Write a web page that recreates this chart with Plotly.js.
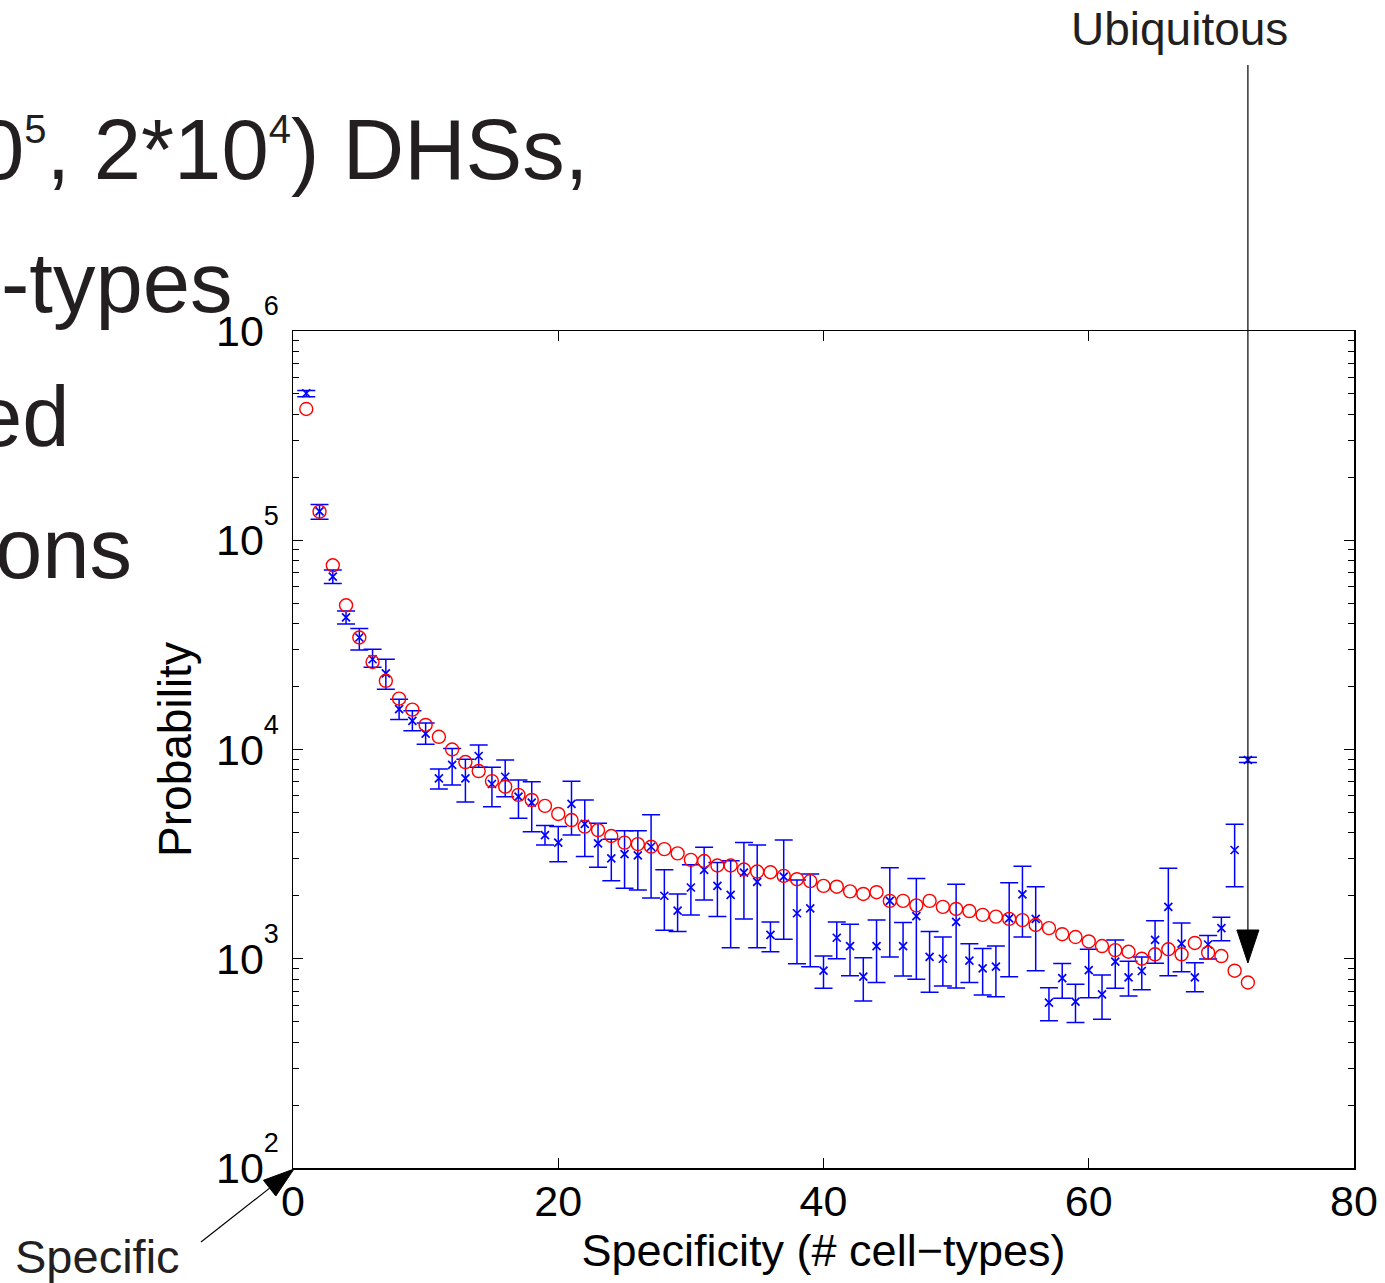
<!DOCTYPE html>
<html><head><meta charset="utf-8">
<script src="https://cdn.plot.ly/plotly-3.0.1.min.js"></script>
<style>html,body{margin:0;padding:0;background:#fff;overflow:hidden}</style>
</head><body><div id="chart" style="width:1385px;height:1283px"></div>
<script>
// Specificity: number of cell types a DHS is accessible in
const specificity = [1,2,3,4,5,6,7,8,9,10,11,12,13,14,15,16,17,18,19,20,21,22,23,24,25,26,27,28,29,30,31,32,33,34,35,36,37,38,39,40,41,42,43,44,45,46,47,48,49,50,51,52,53,54,55,56,57,58,59,60,61,62,63,64,65,66,67,68,69,70,71,72];

// Observed counts (blue x) with error-bar bounds
const observed = [504000,137500,67000,42800,34300,27000,23100,15600,13700,11900,7280,8440,7280,9310,6840,7410,5950,5570,3900,3590,5500,4410,3560,3020,3160,3120,3430,2000,1700,2190,2660,2230,2020,2580,2330,1300,2470,1650,1740,877,1260,1150,821,1150,1890,1150,1600,1020,1000,1500,980,900,916,1560,2030,1550,617,808,624,883,676,968,815,874,1230,1770,1180,815,1170,1400,3310,8910];
const observedUpper = [519000,148000,72100,45900,37900,30100,27000,17400,15300,13400,8070,10100,8980,10500,8230,8910,7140,7020,4330,4280,7060,5740,4440,3720,4090,4090,4880,2660,2040,2810,3410,2880,2940,3590,3500,1500,3690,2380,2540,1030,1500,1460,1010,1530,2720,1490,2420,1350,1270,2270,1180,1120,1150,2310,2770,2210,727,950,755,1110,836,1230,972,1020,1520,2710,1480,957,1290,1580,4390,9180];
const observedLower = [485000,126000,62200,39800,29900,24700,19400,13900,12300,10600,6470,6760,5610,8230,5330,5950,4690,4040,3500,2910,3900,3080,2740,2360,2170,2130,1950,1370,1350,1620,1910,1590,1130,1550,1130,1080,1240,946,916,723,1000,830,628,770,1020,828,798,691,741,725,771,671,659,821,1270,877,506,648,496,651,514,723,664,710,952,830,867,696,996,1220,2210,8660];

// Model prediction (red circles)
const fitted = [424000,137000,75900,48900,34300,26200,21300,17500,15500,13100,11500,10000,8710,7890,7060,6640,6070,5740,5380,4920,4600,4280,4120,3860,3590,3530,3430,3340,3190,2970,2930,2790,2790,2670,2610,2590,2490,2400,2350,2230,2210,2100,2040,2080,1890,1890,1800,1890,1770,1730,1690,1620,1590,1550,1530,1450,1400,1310,1270,1210,1150,1100,1080,1000,1050,1110,1050,1190,1070,1030,877,770];

const xTickVals = [0,20,40,60,80];
const yTickVals = [100,1000,10000,100000,1000000];
const yTickExponents = ['2','3','4','5','6'];
const xTitle = 'Specificity (# cell\u2212types)';
const yTitle = 'Probability';
const slideLines = [
  '0<sup><span style="font-size:40px">5</span></sup>, 2*10<sup><span style="font-size:40px">4</span></sup>) DHSs,',
  '-types', 'ed', 'ons'];
const ubiquitousX = 72;

// Layout geometry (pixels)
const W = 1385, H = 1283;
const M = {l: 293, r: 31, t: 331, b: 115};
const PW = W - M.l - M.r, PH = H - M.t - M.b;
const xMin = 0, xMax = 80;
const px = p => (p - M.l) / PW;            // page px -> paper x
const py = p => (M.t + PH - p) / PH;       // page px -> paper y
const dataToPx = x => M.l + (x - xMin) / (xMax - xMin) * PW;

const plus = observedUpper.map((u, i) => u - observed[i]);
const minus = observed.map((v, i) => v - observedLower[i]);

const traces = [
  {
    x: specificity, y: observed, type: 'scatter', mode: 'markers',
    marker: {symbol: 'x-thin-open', size: 8, color: '#0000ff', line: {color: '#0000ff', width: 1.7}},
    error_y: {type: 'data', symmetric: false, array: plus, arrayminus: minus,
              color: '#0000ff', thickness: 1.5, width: 9},
    showlegend: false, hoverinfo: 'x+y'
  },
  {
    x: specificity, y: fitted, type: 'scatter', mode: 'markers',
    marker: {symbol: 'circle-open', size: 13, color: '#ff0000', line: {color: '#ff0000', width: 1.4}},
    showlegend: false, hoverinfo: 'x+y'
  }
];

// Arrow helper: line from tail to base of head + filled triangle head (all in page px)
function arrowShapes(tx, ty, hx, hy, headLen, headW) {
  const dx = hx - tx, dy = hy - ty, L = Math.hypot(dx, dy);
  const ux = dx / L, uy = dy / L, nx = -uy, ny = ux;
  const bx = hx - ux * headLen, by = hy - uy * headLen;
  const c1x = bx + nx * headW / 2, c1y = by + ny * headW / 2;
  const c2x = bx - nx * headW / 2, c2y = by - ny * headW / 2;
  return [
    {type: 'line', xref: 'paper', yref: 'paper', x0: px(tx), y0: py(ty), x1: px(bx), y1: py(by),
     line: {color: '#000', width: 1.2}},
    {type: 'path', xref: 'paper', yref: 'paper',
     path: `M ${px(hx)} ${py(hy)} L ${px(c1x)} ${py(c1y)} L ${px(c2x)} ${py(c2y)} Z`,
     fillcolor: '#000', line: {color: '#000', width: 1}}
  ];
}
const ubX = dataToPx(ubiquitousX);
const shapes = [].concat(
  arrowShapes(ubX, 65, ubX, 963, 33, 22),
  arrowShapes(201, 1242, 294, 1169, 31, 20)
);

const slideFont = {family: 'Liberation Sans, Arial, sans-serif', size: 85, color: '#231f20'};
const annotations = [
  {text: slideLines[0], xref: 'paper', yref: 'paper', x: px(589), y: py(149), xanchor: 'right', yanchor: 'middle', showarrow: false, font: slideFont, borderpad: 0},
  {text: slideLines[1], xref: 'paper', yref: 'paper', x: px(233), y: py(282), xanchor: 'right', yanchor: 'middle', showarrow: false, font: slideFont, borderpad: 0},
  {text: slideLines[2], xref: 'paper', yref: 'paper', x: px(71), y: py(416), xanchor: 'right', yanchor: 'middle', showarrow: false, font: slideFont, borderpad: 0},
  {text: slideLines[3], xref: 'paper', yref: 'paper', x: px(133), y: py(548), xanchor: 'right', yanchor: 'middle', showarrow: false, font: slideFont, borderpad: 0},
  {text: 'Ubiquitous', xref: 'paper', yref: 'paper', x: px(1179), y: py(29), xanchor: 'center', yanchor: 'middle', showarrow: false,
   font: {family: 'Liberation Sans, Arial, sans-serif', size: 46, color: '#231f20'}},
  {text: 'Specific', xref: 'paper', yref: 'paper', x: px(13), y: py(1256), xanchor: 'left', yanchor: 'middle', showarrow: false,
   font: {family: 'Liberation Sans, Arial, sans-serif', size: 47, color: '#231f20'}}
];

const axisFont = {family: 'Liberation Sans, Arial, sans-serif', size: 43, color: '#000'};
const layout = {
  width: W, height: H,
  margin: M,
  paper_bgcolor: '#fff', plot_bgcolor: '#fff',
  showlegend: false,
  xaxis: {
    range: [xMin, xMax], tickvals: xTickVals, ticktext: xTickVals.map(String),
    ticks: 'inside', ticklen: 10, tickwidth: 1.2, tickcolor: '#000',
    showline: true, linecolor: '#000', linewidth: 1.5, mirror: 'ticks',
    showgrid: false, zeroline: false, tickfont: axisFont, ticklabelstandoff: -5,
    title: {text: xTitle, font: {family: 'Liberation Sans, Arial, sans-serif', size: 45, color: '#000'}, standoff: 9},
    automargin: false
  },
  yaxis: {
    type: 'log', range: [2, 6],
    tickvals: yTickVals,
    ticktext: yTickExponents.map(e => '10<sup><sup><span style="font-size:27px">' + e + '</span></sup></sup>'),
    ticks: 'inside', ticklen: 10, tickwidth: 1.2, tickcolor: '#000',
    minor: {ticks: 'inside', ticklen: 6, tickwidth: 1, tickcolor: '#000', dtick: 'D1', showgrid: false},
    showline: true, linecolor: '#000', linewidth: 1.5, mirror: 'ticks',
    showgrid: false, zeroline: false, tickfont: axisFont, ticklabelstandoff: 4,
    title: {text: yTitle, font: {family: 'Liberation Sans, Arial, sans-serif', size: 46, color: '#000'}, standoff: 10},
    automargin: false
  },
  shapes: shapes,
  annotations: annotations
};

Plotly.newPlot('chart', traces, layout, {staticPlot: true, displayModeBar: false});
</script>
</body></html>
